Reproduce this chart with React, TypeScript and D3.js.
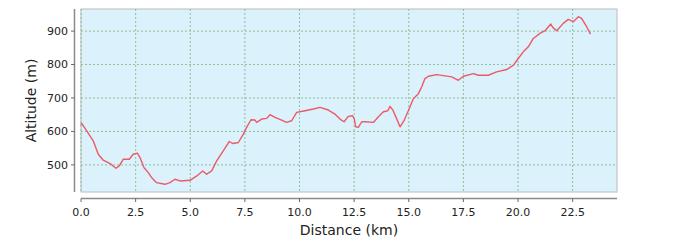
import React from "react";
import * as d3 from "d3";

const distanceKm = [
  0.0, 0.03, 0.26, 0.56, 0.79, 1.02, 1.33, 1.6, 1.75, 1.94, 2.21, 2.39, 2.58, 2.7, 2.88, 3.08, 3.23,
  3.46, 3.84, 4.07, 4.3, 4.53, 4.99, 5.3, 5.57, 5.75, 5.98, 6.21, 6.51, 6.79, 6.94, 7.2, 7.43, 7.58,
  7.78, 7.96, 8.04, 8.27, 8.5, 8.65, 8.88, 9.18, 9.41, 9.64, 9.87, 10.25, 10.63, 10.94, 11.32, 11.62,
  11.85, 12.04, 12.23, 12.43, 12.51, 12.57, 12.69, 12.85, 13.0, 13.38, 13.61, 13.84, 14.04, 14.14,
  14.27, 14.42, 14.6, 14.78, 14.98, 15.21, 15.44, 15.59, 15.74, 15.9, 16.28, 16.66, 16.97, 17.27,
  17.5, 17.96, 18.18, 18.64, 19.02, 19.48, 19.79, 20.01, 20.24, 20.47, 20.7, 21.0, 21.24, 21.5,
  21.59, 21.77, 22.07, 22.3, 22.53, 22.76, 22.91, 23.14, 23.32,
];
const altitudeM = [
  620, 624, 602, 572, 532, 514, 504, 490, 497, 517, 517, 532, 535, 522, 492, 477, 462,
  447, 442, 447, 457, 452, 454, 467, 482, 472, 482, 512, 542, 570, 564, 567, 592, 612,
  635, 634, 627, 637, 639, 650, 642, 634, 627, 632, 657, 662, 667, 672, 664, 652,
  637, 629, 645, 647, 637, 614, 612, 629, 629, 627, 644, 659, 662, 675,
  664, 642, 614, 632, 662, 698, 713, 733, 758, 765, 770, 766, 763, 753,
  765, 773, 768, 768, 778, 785, 798, 818, 838, 853, 878, 893, 901, 921,
  911, 901, 923, 935, 928, 943, 938, 913, 891,
];
const xTicks = [0, 2.5, 5, 7.5, 10, 12.5, 15, 17.5, 20, 22.5];
const yTicks = [500, 600, 700, 800, 900];
const xLabel = "Distance (km)";
const yLabel = "Altitude (m)";

export default function App() {
  const W = 680, H = 240;
  const left = 81, right = 617, top = 9, bottom = 192;
  const x = d3.scaleLinear().domain([0, 24.53]).range([left, right]);
  const y = d3.scaleLinear().domain([419, 966]).range([bottom, top]);
  const pts: [number, number][] = distanceKm.map((d, i) => [d, altitudeM[i]]);
  const line = d3.line<[number, number]>().x((d) => x(d[0])).y((d) => y(d[1]));
  const font = "'DejaVu Sans', sans-serif";
  const gridColor = "#8fbf99";
  return (
    <svg width={W} height={H} style={{ position: "absolute", left: 0, top: 0 }}>
      <rect x={0} y={0} width={W} height={H} fill="#fff" />
      <rect x={left} y={top} width={right - left} height={bottom - top} fill="#dbf1fb" stroke="#b8bcbe" strokeWidth={1} />
      {xTicks.map((t) => (
        <line key={"gx" + t} x1={x(t)} x2={x(t)} y1={top} y2={bottom} stroke={gridColor} strokeDasharray="2,2" strokeWidth={1} />
      ))}
      {yTicks.map((t) => (
        <line key={"gy" + t} x1={left} x2={right} y1={y(t)} y2={y(t)} stroke={gridColor} strokeDasharray="2,2" strokeWidth={1} />
      ))}
      <path d={line(pts) || ""} fill="none" stroke="#ec5a68" strokeWidth={1.4} strokeLinejoin="round" />
      {/* left spine */}
      <line x1={74.5} x2={74.5} y1={top} y2={bottom} stroke="#8a8a8a" strokeWidth={1.5} />
      {yTicks.map((t) => (
        <g key={"yt" + t}>
          <line x1={71} x2={74.5} y1={y(t)} y2={y(t)} stroke="#666" strokeWidth={1} />
          <text x={68} y={y(t)} dy="0.35em" textAnchor="end" fontFamily={font} fontSize={11} fill="#222">{t}</text>
        </g>
      ))}
      {/* bottom spine */}
      <line x1={left} x2={right} y1={198.5} y2={198.5} stroke="#8a8a8a" strokeWidth={1.5} />
      {xTicks.map((t) => (
        <g key={"xt" + t}>
          <line x1={x(t)} x2={x(t)} y1={198.5} y2={202} stroke="#666" strokeWidth={1} />
          <text x={x(t)} y={216} textAnchor="middle" fontFamily={font} fontSize={11} fill="#222">{t.toFixed(1)}</text>
        </g>
      ))}
      <text x={(left + right) / 2} y={235} textAnchor="middle" fontFamily={font} fontSize={14} fill="#222">{xLabel}</text>
      <text transform={`translate(36,${(top + bottom) / 2}) rotate(-90)`} textAnchor="middle" fontFamily={font} fontSize={14} fill="#222">{yLabel}</text>
    </svg>
  );
}
